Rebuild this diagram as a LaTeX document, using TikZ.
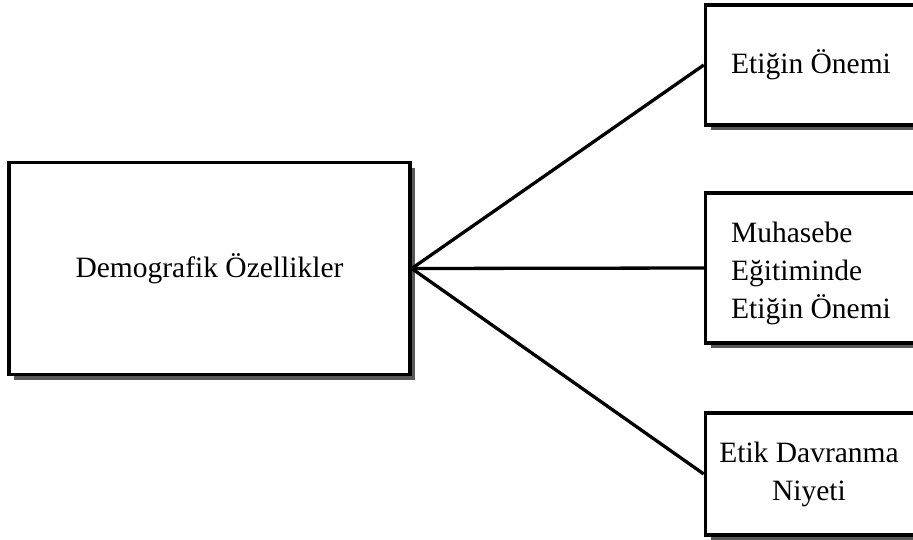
\documentclass[tikz,border=0pt]{standalone}
\usepackage{fontspec}
\setmainfont{Liberation Serif}
\usetikzlibrary{shadows}
\begin{document}
\begin{tikzpicture}[x=1pt,y=-1pt,
  box/.style={draw=black, line width=3.5pt, fill=white, inner sep=0pt,
    drop shadow={shadow xshift=5pt, shadow yshift=-5pt, fill=black!65, opacity=1}},
  link/.style={draw=black, line width=3.3pt},
  lbl/.style={font=\fontsize{29.5}{38}\selectfont}]
  \useasboundingbox (0,0) rectangle (913,539);
  \clip (0,0) rectangle (913,539);
  % left source box
  \node[box, minimum width=401pt, minimum height=212pt] (demo) at (209.5,268.5) {};
  \node[lbl] (demotxt) at (demo.center) {Demografik Özellikler};
  % right target boxes (run past the right edge)
  \node[box, minimum width=215pt, minimum height=120pt] (onem) at (813,65) {};
  \node[box, minimum width=215pt, minimum height=150pt] (egit) at (813,268) {};
  \node[box, minimum width=215pt, minimum height=122pt] (niyet) at (813,474) {};
  \node[lbl] (onemtxt) at (811,65) {Etiğin Önemi};
  \node[lbl, align=left] (egittxt) at (811,273) {Muhasebe\\Eğitiminde\\Etiğin Önemi};
  \node[lbl, align=center] (niyettxt) at (809,474) {Etik Davranma\\Niyeti};
  % connectors fanning out from the left box
  \draw[link] (demo.east) -- (onem.west);
  \draw[link] (demo.east) -- (egit.west);
  \draw[link] (demo.east) -- (niyet.west);
\end{tikzpicture}
\end{document}
